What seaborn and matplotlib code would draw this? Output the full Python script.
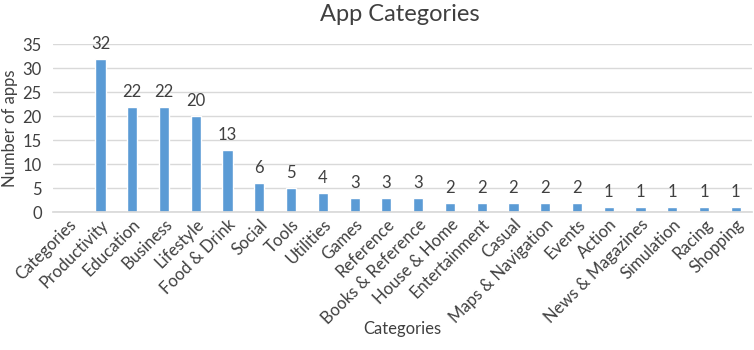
import numpy as np
import pandas as pd
import seaborn as sns
import matplotlib
matplotlib.use("Agg")
import matplotlib.pyplot as plt

categories = ["Categories", "Productivity", "Education", "Business", "Lifestyle",
              "Food & Drink", "Social", "Tools", "Utilities", "Games", "Reference",
              "Books & Reference", "House & Home", "Entertainment", "Casual",
              "Maps & Navigation", "Events", "Action", "News & Magazines",
              "Simulation", "Racing", "Shopping"]
counts = [np.nan, 32, 22, 22, 20, 13, 6, 5, 4, 3, 3, 3, 2, 2, 2, 2, 2, 1, 1, 1, 1, 1]

df = pd.DataFrame({"category": categories, "count": counts})

sns.set_theme(style="white")
plt.rcParams["font.family"] = ["Lato", "DejaVu Sans"]
text_col = "#404040"

fig = plt.figure(figsize=(7.54, 3.5), dpi=100)
ax = fig.add_axes([0.070, 0.394, 0.927, 0.480])

sns.barplot(data=df, x="category", y="count", color="#5B9BD5", width=0.32,
            saturation=1, ax=ax)

for c in ax.containers:
    labels = ["" if np.isnan(v) else f"{int(v)}" for v in c.datavalues]
    ax.bar_label(c, labels=labels, padding=5, fontsize=12, color=text_col)

ax.set_ylim(0, 35)
ax.set_yticks(range(0, 36, 5))
ax.yaxis.grid(True, color="#D9D9D9", linewidth=1)
ax.set_axisbelow(True)
for s in ["top", "right", "left"]:
    ax.spines[s].set_visible(False)
ax.spines["bottom"].set_color("#D9D9D9")
ax.tick_params(axis="both", length=0, labelsize=12, colors=text_col, pad=3)
ax.tick_params(axis="y", pad=8)
plt.setp(ax.get_xticklabels(), rotation=45, ha="right", rotation_mode="anchor")
ax.set_xlim(-0.5, len(categories) - 0.5)

ax.set_xlabel("Categories", fontsize=12, color=text_col, labelpad=-4)
ax.set_ylabel("Number of apps", fontsize=12, color=text_col, labelpad=3)
fig.text(0.53, 0.958, "App Categories", ha="center", va="center",
         fontsize=17, color=text_col)

fig.savefig("out.png", dpi=100)
